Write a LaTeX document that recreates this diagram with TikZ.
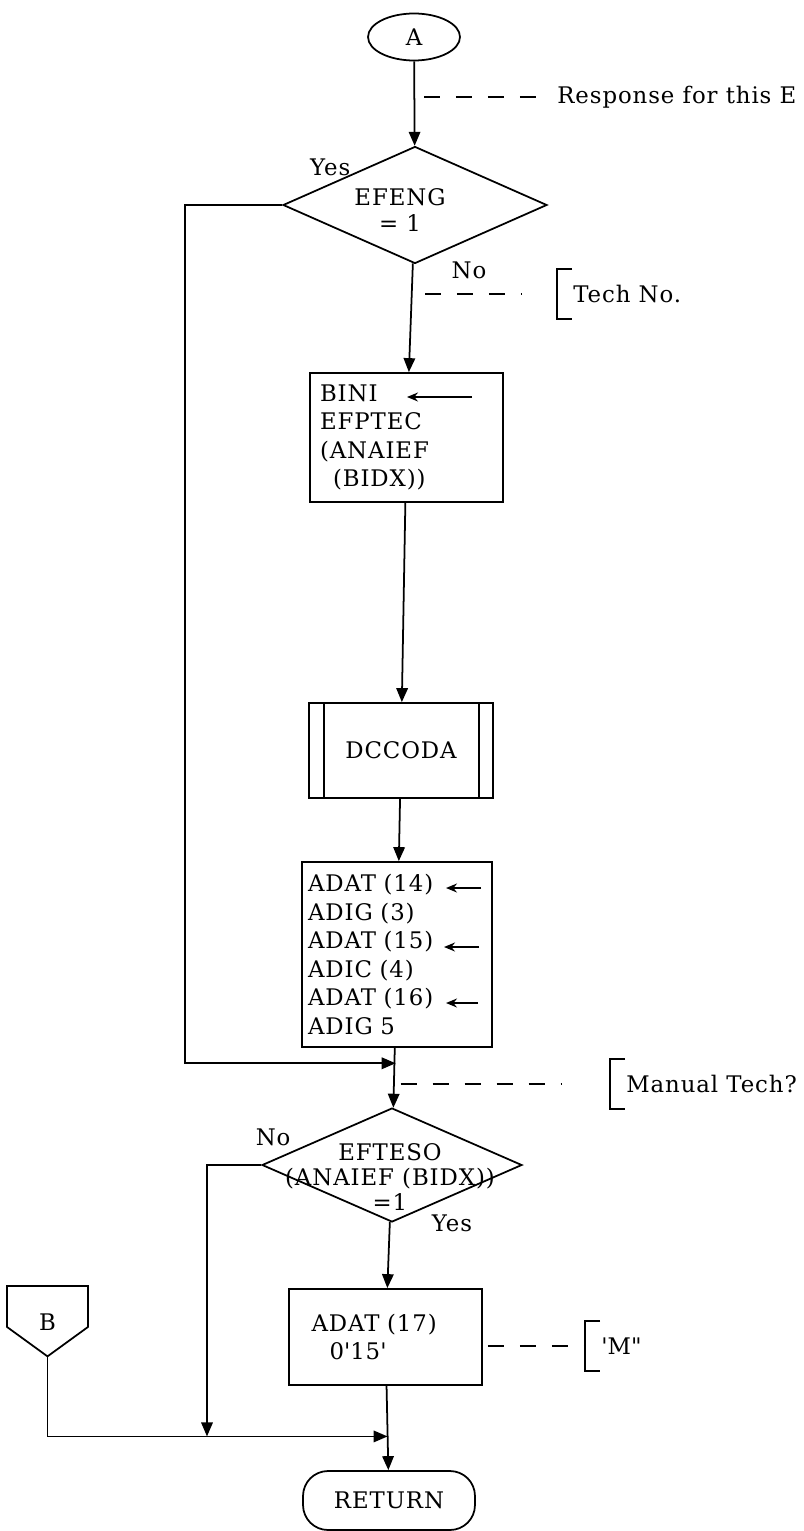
\documentclass[tikz,border=0pt]{standalone}
\usepackage{fontspec}
\setmainfont{DejaVu Serif}[LetterSpace=4]
\usetikzlibrary{arrows.meta,calc,shapes.geometric,shapes.symbols}

\begin{document}
\begin{tikzpicture}[
    x=0.02cm, y=-0.02cm,
    every node/.append style={font=\fontsize{13}{16.2}\selectfont},
    box/.style={draw, line width=1pt, align=left},
    decide/.style={draw, line width=1pt, diamond, inner sep=0pt},
    term/.style={draw, line width=1pt, rounded corners=0.5cm, minimum width=3.44cm, minimum height=1.18cm},
    memo/.style={anchor=west, minimum height=1cm, inner xsep=0.32cm},
    lbl/.style={inner sep=1pt},
    flow/.style={-{Triangle[length=2.8mm, width=2.3mm]}, line width=1pt},
    ptr/.style={-{Stealth[length=2.2mm, width=1.8mm]}, line width=0.8pt},
    note/.style={line width=0.8pt, dash pattern=on 0.32cm off 0.32cm},
  ]
  \useasboundingbox (0,0) rectangle (804,1531);

  % Boxes
  \node[draw, line width=1pt, ellipse, minimum width=1.84cm, minimum height=0.94cm, inner sep=0pt] (a) at (414,37) {A};
  \node[decide, minimum width=5.28cm, minimum height=2.34cm] (efeng) at (415,205) {};
  \node[align=center, font=\fontsize{13}{14.8}\selectfont] (efengtxt) at (400,210) {EFENG\\= 1};
  \node[box, text width=3.46cm, inner xsep=0.2cm, minimum height=2.58cm] (bini) at (406.5,437.5)
    {BINI\\EFPTEC\\(ANAIEF\\\hspace*{0.26cm}(BIDX))};
  \node[box, align=center, minimum width=3.68cm, minimum height=1.9cm] (dccoda) at (401,750.5) {DCCODA};
  \draw[line width=1pt] ([xshift=0.32cm]dccoda.north west) -- ([xshift=0.32cm]dccoda.south west)
               ([xshift=-0.3cm]dccoda.north east) -- ([xshift=-0.3cm]dccoda.south east);
  \node[box, text width=3.56cm, inner xsep=0.12cm, minimum height=3.7cm] (adat) at (397,954.5)
    {ADAT (14)\\ADIG (3)\\ADAT (15)\\ADIC (4)\\ADAT (16)\\ADIG 5};
  \node[decide, minimum width=5.2cm, minimum height=2.28cm] (efteso) at (392,1165) {};
  \node[align=center, font=\fontsize{13}{14.2}\selectfont] (eftesotxt) at (390,1177)
    {EFTESO\\(ANAIEF (BIDX))\\=1};
  \node[box, text width=2.96cm, inner xsep=0.45cm, minimum height=1.92cm] (adat17) at (385.5,1337)
    {ADAT (17)\\\hspace*{0.36cm}0\textquotesingle 15\textquotesingle};
  \node[term] (ret) at (389,1500.5) {RETURN};
  \node[draw, line width=1pt, signal, signal to=south, signal pointer angle=108, minimum width=1.62cm,
        minimum height=0.94cm, inner sep=0pt] (b) at (47.5,1306.5) {\raisebox{-0.48cm}[0pt][0pt]{B}};

  % Notes
  \node[anchor=west, inner sep=0pt] (resp) at (557,97) {Response for this E};
  \node[memo] (techno) at (557,294) {Tech No.};
  \node[memo] (manual) at (610,1084) {Manual Tech?};
  \node[memo] (mchar) at (585,1346) {\textquotesingle M\textquotedbl};
  \foreach \n in {techno, manual, mchar}
    \draw[line width=1pt] ([xshift=0.3cm]\n.north west) -- (\n.north west) -- (\n.south west) -- ([xshift=0.3cm]\n.south west);

  % Branch labels
  \node[lbl] (yes1) at ([xshift=0.96cm, yshift=0.76cm]efeng.west) {Yes};
  \node[lbl] (no1) at ([xshift=1.08cm, yshift=-0.12cm]efeng.south) {No};
  \node[lbl] (no2) at ([xshift=0.24cm, yshift=0.56cm]efteso.west) {No};
  \node[lbl] (yes2) at ([xshift=1.2cm, yshift=0cm]efteso.south) {Yes};

  % Joins
  \coordinate (join1) at ($(adat.south)!0.26!(efteso.north)$);
  \coordinate (join2) at ($(adat17.south)!0.6!(ret.north)$);
  \coordinate (yesbus) at (185,0);
  \coordinate (nobus) at (207,0);

  % Pointers
  \foreach \n/\xa/\xb/\y in {p0/472/407/397, p1/481/446/888, p2/479/444/947, p3/478/446/1003} {
    \coordinate (\n-from) at (\xa,\y);
    \coordinate (\n-to) at (\xb,\y);
    \draw[ptr] (\n-from) -- (\n-to);
  }

  % Flow
  \draw[flow] (a) -- (efeng);
  \draw[flow] (efeng) -- (bini);
  \draw[flow] (bini) -- (dccoda);
  \draw[flow] (dccoda) -- (adat);
  \draw[flow] (adat) -- (efteso);
  \draw[flow] (efteso) -- (adat17);
  \draw[flow] (adat17) -- (ret);
  \draw[flow] (efeng.west) -| (yesbus |- join1) -- (join1);
  \draw[flow] (efteso.west) -| (nobus |- join2);
  \draw[flow] (b.south) |- (join2);

  % Dashed notes
  \draw[note] ([xshift=0.2cm]a.south |- resp.west) -- ([xshift=-0.34cm]resp.west);
  \draw[note] ([xshift=0.2cm]efeng.south |- techno.west) -- ([xshift=-0.7cm]techno.west);
  \draw[note] ([xshift=0.1cm]join1 |- manual.west) -- ([xshift=-0.96cm]manual.west);
  \draw[note] ([xshift=0.1cm]adat17.east |- mchar.west) -- (mchar.west);
\end{tikzpicture}
\end{document}
